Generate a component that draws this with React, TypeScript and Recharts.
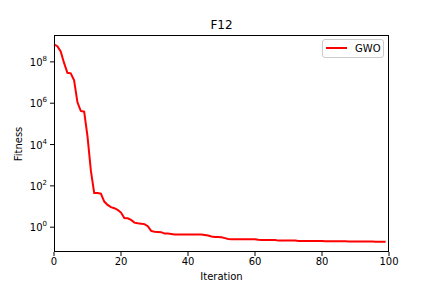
import React from 'react';
import { LineChart, Line, XAxis, YAxis } from 'recharts';

// GWO convergence curve for F12 (fitness per iteration)
const iterations = Array.from({ length: 100 }, (_, i) => i);
const gwoFitness = [
  7.1e8, 5.75e8, 3.2e8, 8.9e7, 2.95e7, 2.8e7, 1.29e7, 1.1e6, 4.2e5, 3.9e5,
  2.5e4, 560, 45, 45, 42, 17.4, 12, 9.3, 8.3, 6.9,
  5.1, 2.75, 2.7, 2.24, 1.66, 1.55, 1.48, 1.41, 1.12, 0.66,
  0.6, 0.59, 0.575, 0.49, 0.49, 0.47, 0.447, 0.437, 0.437, 0.437,
  0.437, 0.437, 0.437, 0.437, 0.437, 0.417, 0.398, 0.355, 0.339, 0.331,
  0.324, 0.295, 0.269, 0.263, 0.263, 0.263, 0.263, 0.263, 0.263, 0.263,
  0.263, 0.245, 0.24, 0.24, 0.24, 0.24, 0.24, 0.224, 0.224, 0.224,
  0.224, 0.224, 0.224, 0.214, 0.214, 0.214, 0.214, 0.214, 0.214, 0.214,
  0.214, 0.209, 0.209, 0.209, 0.209, 0.206, 0.206, 0.206, 0.204, 0.204,
  0.204, 0.204, 0.204, 0.202, 0.202, 0.202, 0.2, 0.2, 0.2, 0.2,
];
const xTicks = [0, 20, 40, 60, 80, 100];
const yTicks = [1, 1e2, 1e4, 1e6, 1e8];

const data = iterations.map((it, i) => ({ iter: it, gwo: gwoFitness[i] }));

const FONT = '"DejaVu Sans", sans-serif';

const PowerTick = (props: any) => {
  const { x, y, payload } = props;
  const exp = Math.round(Math.log10(payload.value));
  return (
    <text x={x} y={y} textAnchor="end" dy="0.4em" fontSize={10} fill="#000" fontFamily={FONT}>
      <tspan>10</tspan>
      <tspan dy={-5} fontSize={7}>{exp}</tspan>
    </text>
  );
};

const App: React.FC = () => {
  return (
    <div style={{ position: 'absolute', left: 0, top: 0, width: 432, height: 288, background: '#fff', fontFamily: FONT }}>
      <LineChart
        width={432}
        height={288}
        data={data}
        margin={{ top: 35, right: 43, left: 10, bottom: 6 }}
      >
        <XAxis
          dataKey="iter"
          type="number"
          domain={[0, 100]}
          ticks={xTicks}
          height={30}
          axisLine={false}
          tickLine={{ stroke: '#000' }}
          tickSize={4}
          tickMargin={2}
          tick={{ fontSize: 10, fill: '#000', fontFamily: FONT }}
        />
        <YAxis
          scale="log"
          domain={[0.063, 2e9]}
          allowDataOverflow
          ticks={yTicks}
          width={44}
          axisLine={false}
          tickLine={{ stroke: '#000' }}
          tickSize={4}
          tickMargin={3}
          tick={<PowerTick />}
        />
        <Line
          dataKey="gwo"
          type="linear"
          stroke="#ff0000"
          strokeWidth={2}
          dot={false}
          isAnimationActive={false}
        />
      </LineChart>

      {/* frame */}
      <div style={{ position: 'absolute', left: 54, top: 35, width: 335, height: 217, border: '1px solid #000', boxSizing: 'border-box', pointerEvents: 'none' }} />

      <div style={{ position: 'absolute', left: 54, width: 335, top: 17, textAlign: 'center', fontSize: 12, lineHeight: '16px' }}>F12</div>
      <div style={{ position: 'absolute', left: 54, width: 335, top: 270, textAlign: 'center', fontSize: 10, lineHeight: '14px' }}>Iteration</div>
      <div style={{ position: 'absolute', left: 19, top: 144, transform: 'translate(-50%, -50%) rotate(-90deg)', fontSize: 10, lineHeight: '14px', whiteSpace: 'nowrap' }}>Fitness</div>

      {/* legend */}
      <div style={{ position: 'absolute', left: 322, top: 39, width: 62, height: 19, border: '1px solid #ccc', borderRadius: 3, boxSizing: 'border-box', background: 'rgba(255,255,255,0.8)' }}>
        <div style={{ position: 'absolute', left: 3, top: 7, width: 21, height: 2, background: '#ff0000' }} />
        <div style={{ position: 'absolute', left: 32, top: 2, fontSize: 10, lineHeight: '13px' }}>GWO</div>
      </div>
    </div>
  );
};

export default App;
